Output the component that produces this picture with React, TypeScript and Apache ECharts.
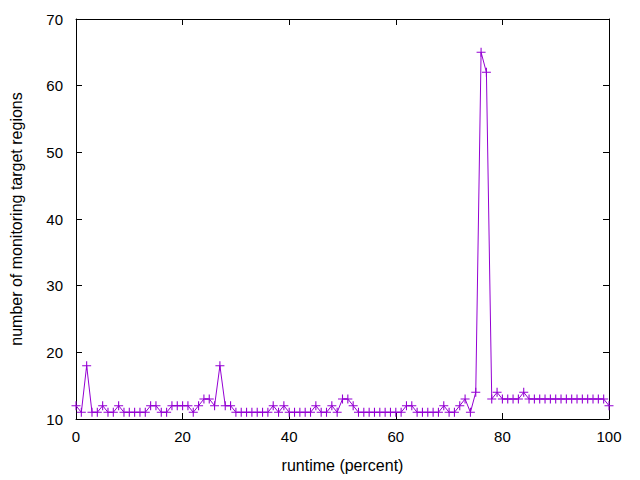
import React, { useEffect, useRef } from "react";
import * as echarts from "echarts";

const regionCounts: number[] = [
  12, 11, 18, 11, 11, 12, 11, 11, 12, 11,
  11, 11, 11, 11, 12, 12, 11, 11, 12, 12,
  12, 12, 11, 12, 13, 13, 12, 18, 12, 12,
  11, 11, 11, 11, 11, 11, 11, 12, 11, 12,
  11, 11, 11, 11, 11, 12, 11, 11, 12, 11,
  13, 13, 12, 11, 11, 11, 11, 11, 11, 11,
  11, 11, 12, 12, 11, 11, 11, 11, 11, 12,
  11, 11, 12, 13, 11, 14, 65, 62, 13, 14,
  13, 13, 13, 13, 14, 13, 13, 13, 13, 13,
  13, 13, 13, 13, 13, 13, 13, 13, 13, 13,
  12,
];
const runtimePercent: number[] = regionCounts.map((_, i) => i);

const xTicks = { min: 0, max: 100, interval: 20 };
const yTicks = { min: 10, max: 70, interval: 10 };

const PURPLE = "#9400d3";
const FONT = "Liberation Sans, Arial, sans-serif";
const PLUS =
  "path://M-0.6,-5 L0.6,-5 L0.6,-0.6 L5,-0.6 L5,0.6 L0.6,0.6 L0.6,5 L-0.6,5 L-0.6,0.6 L-5,0.6 L-5,-0.6 L-0.6,-0.6 Z";

export default function App() {
  const ref = useRef<HTMLDivElement>(null);
  useEffect(() => {
    if (!ref.current) return;
    const chart = echarts.init(ref.current, undefined, { renderer: "svg" });
    const axisCommon = {
      axisLine: { show: true, onZero: false, lineStyle: { color: "#000", width: 1 } },
      axisTick: { show: true, inside: true, length: 6, lineStyle: { color: "#000", width: 1 } },
      splitLine: { show: false },
    };
    chart.setOption({
      animation: false,
      backgroundColor: "#fff",
      textStyle: { fontFamily: FONT },
      grid: { left: 74, right: 31, top: 19, bottom: 61, containLabel: false },
      xAxis: [
        {
          type: "value",
          ...xTicks,
          position: "bottom",
          ...axisCommon,
          axisLabel: { show: true, color: "#000", fontSize: 15, fontFamily: FONT, margin: 10 },
          name: "runtime (percent)",
          nameLocation: "middle",
          nameGap: 38,
          nameTextStyle: { color: "#000", fontSize: 16, fontFamily: FONT },
        },
        {
          type: "value",
          ...xTicks,
          position: "top",
          ...axisCommon,
          axisLabel: { show: false },
        },
      ],
      yAxis: [
        {
          type: "value",
          ...yTicks,
          position: "left",
          ...axisCommon,
          axisLabel: { show: true, color: "#000", fontSize: 15, fontFamily: FONT, margin: 13 },
          name: "number of monitoring target regions",
          nameLocation: "middle",
          nameGap: 52,
          nameTextStyle: { color: "#000", fontSize: 16, fontFamily: FONT },
        },
        {
          type: "value",
          ...yTicks,
          position: "right",
          ...axisCommon,
          axisLabel: { show: false },
        },
      ],
      series: [
        {
          type: "line",
          data: runtimePercent.map((x, i) => [x, regionCounts[i]]),
          symbol: PLUS,
          symbolSize: 9,
          showAllSymbol: true,
          lineStyle: { color: PURPLE, width: 1 },
          itemStyle: { color: PURPLE, borderWidth: 0 },
          emphasis: { disabled: true },
        },
      ],
    });
    return () => chart.dispose();
  }, []);
  return (
    <div
      ref={ref}
      style={{ position: "fixed", left: 0, top: 0, width: 640, height: 480 }}
    />
  );
}
